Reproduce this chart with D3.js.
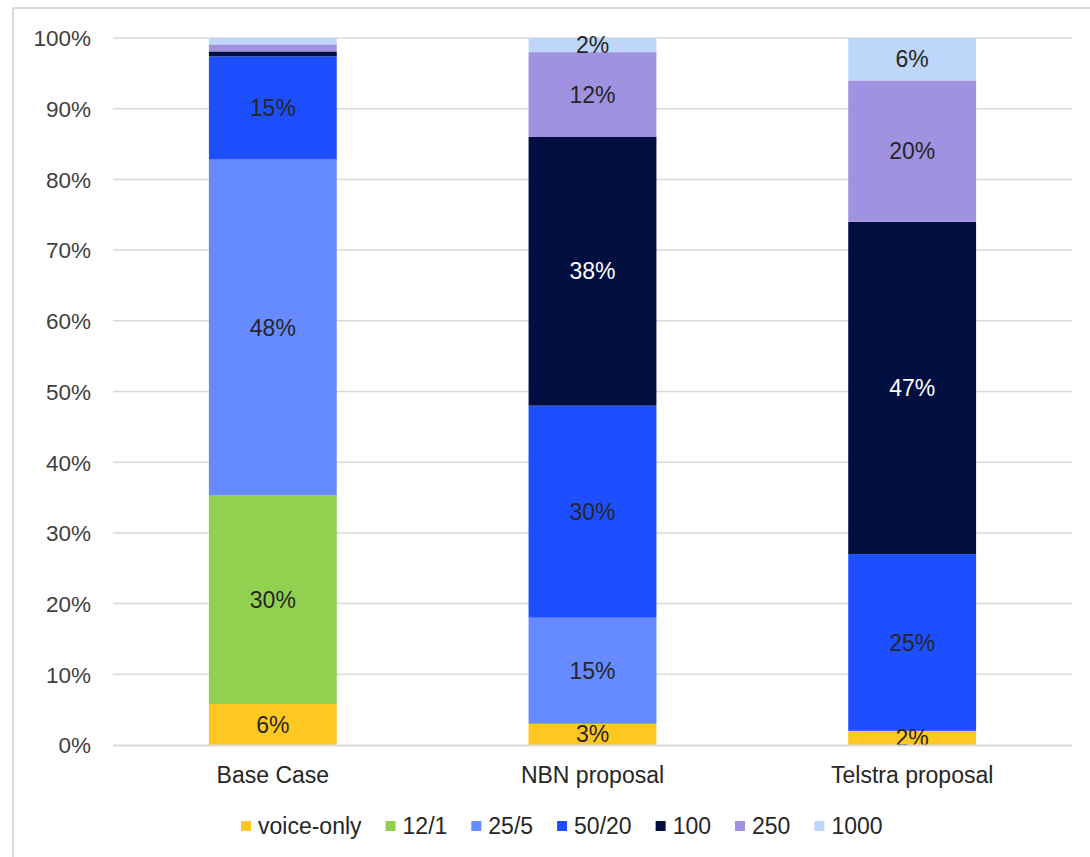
<!DOCTYPE html>
<html>
<head>
<meta charset="utf-8">
<script src="https://cdn.jsdelivr.net/npm/d3@7"></script>
<style>
  body { margin: 0; background: #fff; }
  svg text { font-family: "Liberation Sans", Arial, sans-serif; }
</style>
</head>
<body>
<svg id="chart" width="1090" height="857"></svg>
<script>
// scenarios and speed tiers
const scenarios = ['Base Case', 'NBN proposal', 'Telstra proposal']
const tiers = ['voice-only', '12/1', '25/5', '50/20', '100', '250', '1000']
const tierColors = ['#ffc821', '#92d050', '#668aff', '#1e4fff', '#000f40', '#a092e0', '#bed6fa']

// share of services per tier (%), one array per scenario
const baseCase = [5.8, 29.5, 47.5, 14.6, 0.7, 1.0, 0.9]
const nbnProposal = [3, 0, 15, 30, 38, 12, 2]
const telstraProposal = [2, 0, 0, 25, 47, 20, 6]
const yTicks = [0, 10, 20, 30, 40, 50, 60, 70, 80, 90, 100]

const values = [baseCase, nbnProposal, telstraProposal]

const svg = d3.select('#chart')

// frame around the chart (only top and left edges show)
svg.append('line').attr('x1', 13).attr('x2', 1090).attr('y1', 8).attr('y2', 8)
  .style('stroke', '#d9d9d9').style('stroke-width', 2)
svg.append('line').attr('x1', 13).attr('x2', 13).attr('y1', 8).attr('y2', 857)
  .style('stroke', '#d9d9d9').style('stroke-width', 2)

const plot = { left: 113, right: 1072, top: 38, bottom: 745 }

const x = d3.scaleBand()
  .domain(scenarios)
  .range([plot.left, plot.right])
  .padding(0)
const barWidth = x.bandwidth() * 0.4

const y = d3.scaleLinear()
  .domain([0, 100])
  .range([plot.bottom, plot.top])

// gridlines
svg.append('g')
  .selectAll('line')
  .data(yTicks.slice(1))
  .enter().append('line')
  .attr('x1', plot.left).attr('x2', plot.right)
  .attr('y1', d => y(d)).attr('y2', d => y(d))
  .style('stroke', '#d9d9d9').style('stroke-width', 1.5)

// y axis labels
const yAxis = svg.append('g')
  .attr('transform', `translate(${plot.left - 22},0)`)
  .call(d3.axisLeft(y).tickValues(yTicks).tickSize(0).tickPadding(0).tickFormat(d => d + '%'))
yAxis.select('.domain').remove()
yAxis.selectAll('text')
  .style('font-size', '22.5px').style('fill', '#404040')
  .attr('dy', '0.35em')

// stacked segments
const stackData = scenarios.map((s, i) => {
  const row = { scenario: s }
  tiers.forEach((t, j) => { row[t] = values[i][j] })
  return row
})
const series = d3.stack().keys(tiers)(stackData)

const layer = svg.selectAll('.layer')
  .data(series)
  .enter().append('g')
  .attr('class', 'layer')
  .style('fill', (d, i) => tierColors[i])

layer.selectAll('rect')
  .data(d => d)
  .enter().append('rect')
  .attr('x', d => x(d.data.scenario) + (x.bandwidth() - barWidth) / 2)
  .attr('width', barWidth)
  .attr('y', d => y(d[1]))
  .attr('height', d => y(d[0]) - y(d[1]))

// data labels (small slivers are left unlabelled)
series.forEach(s => {
  svg.append('g').selectAll('text')
    .data(s.filter(d => d.data[s.key] >= 1.5))
    .enter().append('text')
    .attr('x', d => x(d.data.scenario) + x.bandwidth() / 2)
    .attr('y', d => y((d[0] + d[1]) / 2))
    .attr('dy', '0.35em')
    .attr('text-anchor', 'middle')
    .style('font-size', '23px')
    .style('fill', s.key === '100' ? '#ffffff' : '#262626')
    .text(d => Math.round(d.data[s.key]) + '%')
})

// x axis line
svg.append('line')
  .attr('x1', plot.left).attr('x2', plot.right)
  .attr('y1', plot.bottom + 0.5).attr('y2', plot.bottom + 0.5)
  .style('stroke', '#d9d9d9').style('stroke-width', 2)

const xAxis = svg.append('g')
  .attr('transform', `translate(0,${plot.bottom})`)
  .call(d3.axisBottom(x).tickSize(0).tickPadding(0))
xAxis.select('.domain').remove()
xAxis.selectAll('text')
  .attr('y', 30).attr('dy', '0.35em')
  .style('font-size', '23px').style('fill', '#262626')

// legend
const legend = svg.append('g').attr('class', 'legend')
let lx = 241
tiers.forEach((t, i) => {
  const item = legend.append('g').attr('transform', `translate(${lx},826)`)
  item.append('rect')
    .attr('x', 0).attr('y', -5).attr('width', 10).attr('height', 10)
    .style('fill', tierColors[i])
  const txt = item.append('text')
    .attr('x', 17).attr('dy', '0.35em')
    .style('font-size', '23px').style('fill', '#262626')
    .text(t)
  lx += 17 + txt.node().getComputedTextLength() + 24
})
</script>
</body>
</html>
